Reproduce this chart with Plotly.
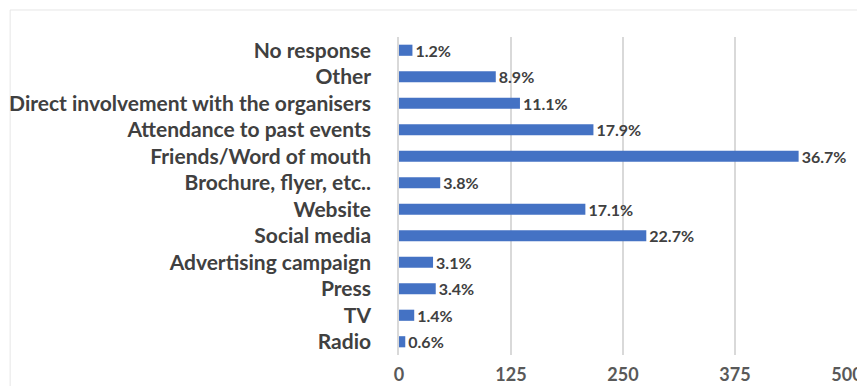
import plotly.graph_objects as go

categories = ["No response", "Other", "Direct involvement with the organisers",
              "Attendance to past events", "Friends/Word of mouth", "Brochure, flyer, etc..",
              "Website", "Social media", "Advertising campaign", "Press", "TV", "Radio"]
counts = [15, 108, 135, 217, 446, 46, 208, 276, 38, 41, 17, 7]
pct_labels = ["1.2%", "8.9%", "11.1%", "17.9%", "36.7%", "3.8%",
              "17.1%", "22.7%", "3.1%", "3.4%", "1.4%", "0.6%"]
tick_vals = [0, 125, 250, 375, 500]

fig = go.Figure(go.Bar(
    y=categories, x=counts, orientation="h",
    marker=dict(color="#4472C4", line=dict(width=0)),
    text=pct_labels, textposition="outside", cliponaxis=False,
    constraintext="none",
    textfont=dict(family="Lato", size=16, color="#404040", weight="bold"),
    width=0.42,
))

fig.update_layout(
    width=865, height=386,
    margin=dict(l=391, r=26, t=29, b=39, autoexpand=False),
    plot_bgcolor="white", paper_bgcolor="white",
    showlegend=False,
    font=dict(family="Lato", color="#404040"),
    xaxis=dict(range=[0, 500], tickvals=tick_vals, showgrid=True,
               gridcolor="#d9d9d9", gridwidth=1.5, zeroline=False,
               showline=False, ticks="", automargin=False,
               ticklabelstandoff=7,
               tickfont=dict(family="Lato", size=18, color="#595959", weight="bold")),
    yaxis=dict(categoryorder="array", categoryarray=categories[::-1],
               showline=True, linecolor="#d9d9d9", linewidth=1.5,
               ticks="", ticklabelstandoff=22, automargin=False,
               tickfont=dict(family="Lato", size=21, color="#404040", weight="bold")),
    shapes=[dict(type="rect", xref="paper", yref="paper",
                 x0=-0.868, x1=1.038, y0=-0.2, y1=1.085,
                 line=dict(color="#e6e6e6", width=1), layer="below")],
)

fig.write_html("out.html")
